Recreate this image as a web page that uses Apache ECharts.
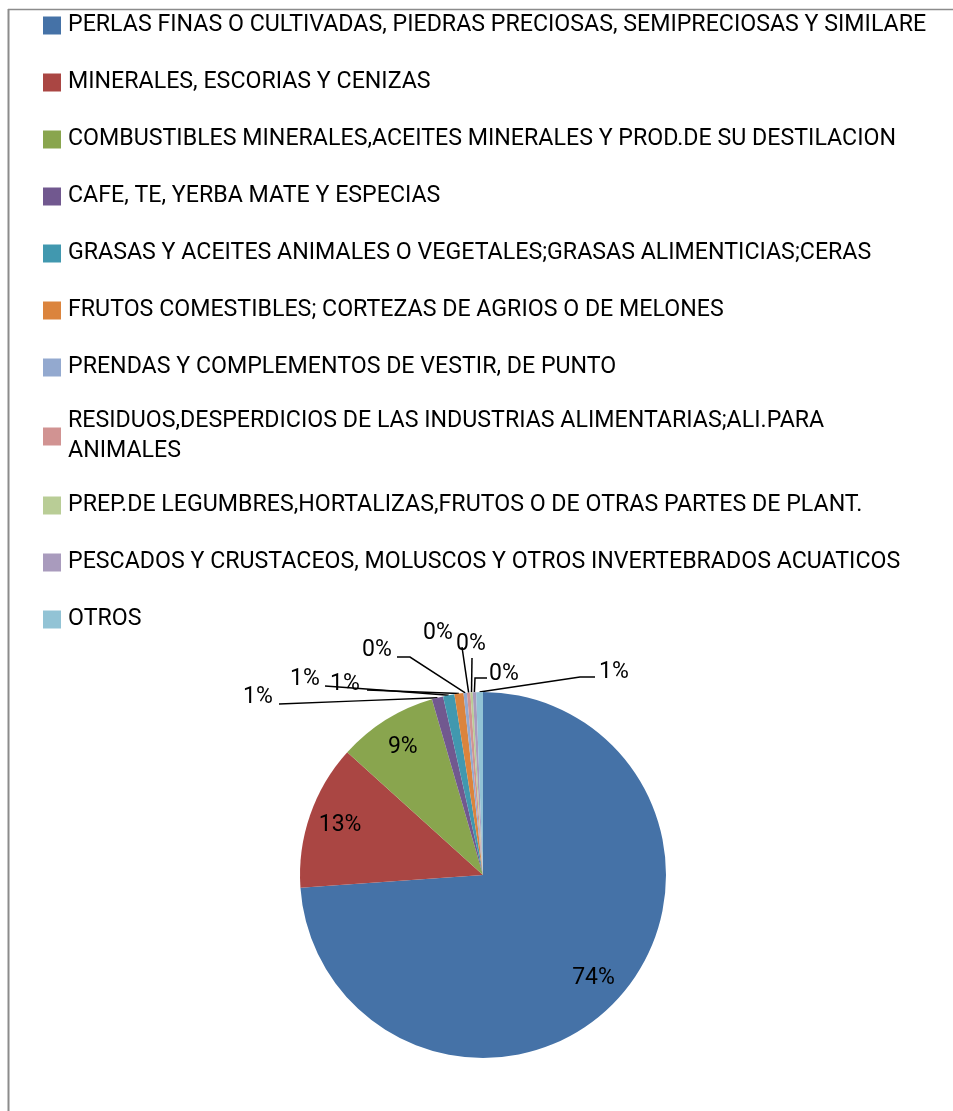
<!DOCTYPE html>
<html>
<head>
<meta charset="utf-8">
<script src="https://cdn.jsdelivr.net/npm/echarts@6/dist/echarts.min.js"></script>
<style>
  html, body { margin: 0; padding: 0; background: #fff; }
  #chart { width: 953px; height: 1111px; }
</style>
</head>
<body>
<div id="chart"></div>
<script>
// categorias (texto tal cual aparece en la leyenda)
var categories = [
  "PERLAS FINAS O CULTIVADAS, PIEDRAS PRECIOSAS, SEMIPRECIOSAS Y SIMILARE",
  "MINERALES, ESCORIAS Y CENIZAS",
  "COMBUSTIBLES MINERALES,ACEITES MINERALES Y PROD.DE SU DESTILACION",
  "CAFE, TE, YERBA MATE Y ESPECIAS",
  "GRASAS Y ACEITES ANIMALES O VEGETALES;GRASAS ALIMENTICIAS;CERAS",
  "FRUTOS COMESTIBLES; CORTEZAS DE AGRIOS O DE MELONES",
  "PRENDAS Y COMPLEMENTOS DE VESTIR, DE PUNTO",
  "RESIDUOS,DESPERDICIOS DE LAS INDUSTRIAS ALIMENTARIAS;ALI.PARA ANIMALES",
  "PREP.DE LEGUMBRES,HORTALIZAS,FRUTOS O DE OTRAS PARTES DE PLANT.",
  "PESCADOS Y CRUSTACEOS, MOLUSCOS Y OTROS INVERTEBRADOS ACUATICOS",
  "OTROS"
];

// participacion (%)
var shares = [73.9, 12.8, 8.8, 1.0, 1.0, 0.8, 0.3, 0.3, 0.2, 0.3, 0.6];

var colors = ["#4572A7", "#AA4643", "#89A54E", "#71588F", "#4198AF", "#DB843D",
              "#93A9CF", "#D19392", "#B9CD96", "#A99BBD", "#92C3D5"];

var FONT = "Roboto";
var CENTER = [483, 875];
var RADIUS = 183;

// etiquetas de las porciones chicas, colocadas a mano como en el original
// at: centro de la etiqueta respecto al centro de la torta
// end: donde termina la linea guia respecto al centro de la etiqueta
var labelSpots = {
  3: { at: [-225, -178], end: [21, 7] },
  4: { at: [-178, -196], end: [20, 7] },
  5: { at: [-138, -191], end: [22, 6] },
  6: { at: [-106, -225], end: [20, 7], elbow: [33, 7] },
  7: { at: [-45, -242], end: [24, 14] },
  8: { at: [-12, -231], end: [1, 14] },
  9: { at: [21, -201], end: [-17, 4], elbow: [-29, 4] },
  10: { at: [131, -203], end: [-19, 5], elbow: [-34, 5] }
};

var chart = echarts.init(document.getElementById("chart"));

var pieData = categories.map(function (name, i) {
  var item = { name: name, value: shares[i] };
  if (i < 3) {
    item.label = { position: "inside" };
    item.labelLine = { show: false };
  }
  return item;
});

var option = {
  animation: false,
  color: colors,
  graphic: [
    { type: "line", shape: { x1: 8, y1: 9.5, x2: 953, y2: 9.5 }, style: { stroke: "#8c8c8c", lineWidth: 1.5 } },
    { type: "line", shape: { x1: 8.5, y1: 9, x2: 8.5, y2: 1111 }, style: { stroke: "#8c8c8c", lineWidth: 2 } }
  ],
  legend: {
    orient: "vertical",
    left: 38,
    top: 6,
    icon: "rect",
    itemWidth: 18,
    itemHeight: 18,
    itemGap: 28,
    selectedMode: false,
    data: categories,
    formatter: function (name) {
      return name === categories[7] ? name.replace(" ANIMALES", "\nANIMALES") : name;
    },
    textStyle: {
      fontFamily: FONT,
      fontSize: 23.2,
      color: "#000",
      lineHeight: 30,
      height: 29,
      padding: [0, 0, 0, 2]
    }
  },
  series: [
    {
      type: "pie",
      center: CENTER,
      radius: RADIUS,
      startAngle: 90,
      clockwise: true,
      avoidLabelOverlap: false,
      data: pieData,
      itemStyle: { borderWidth: 0 },
      emphasis: { disabled: true },
      label: {
        show: true,
        position: "outside",
        fontFamily: FONT,
        fontSize: 23,
        color: "#000",
        formatter: function (p) { return Math.round(p.percent) + "%"; }
      },
      labelLine: {
        show: true,
        length: 20,
        length2: 20,
        lineStyle: { color: "#000", width: 1.5 }
      },
      labelLayout: function (params) {
        var i = params.dataIndex;
        var r = params.labelRect;
        var spot = labelSpots[i];
        if (!spot) {
          // etiquetas internas: mas cerca del borde, como en Excel
          var lx = r.x + r.width / 2, ly = r.y + r.height / 2;
          return {
            x: CENTER[0] + (lx - CENTER[0]) * 1.6,
            y: CENTER[1] + (ly - CENTER[1]) * 1.6,
            align: "center",
            verticalAlign: "middle"
          };
        }
        var cx = CENTER[0] + spot.at[0];
        var cy = CENTER[1] + spot.at[1];
        var anchor = params.labelLinePoints[0];
        var end = [cx + spot.end[0], cy + spot.end[1]];
        var elbow = spot.elbow ? [cx + spot.elbow[0], cy + spot.elbow[1]]
                               : [(anchor[0] + end[0]) / 2, (anchor[1] + end[1]) / 2];
        return {
          x: cx,
          y: cy,
          align: "center",
          verticalAlign: "middle",
          labelLinePoints: [anchor, elbow, end]
        };
      }
    }
  ]
};

chart.setOption(option);
</script>
</body>
</html>
